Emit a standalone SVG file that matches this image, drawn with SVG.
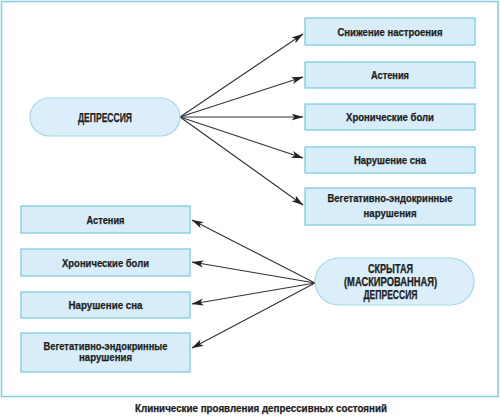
<svg xmlns="http://www.w3.org/2000/svg" width="500" height="418" viewBox="0 0 500 418">
<defs>
<marker id="ah" viewBox="0 0 12 8" refX="11.5" refY="4" markerWidth="12" markerHeight="8" markerUnits="userSpaceOnUse" orient="auto">
<path d="M0,0.5 L12,4 L0,7.5 L3,4 Z" fill="#222"/>
</marker>
<style>
.box{fill:#d8edf8;stroke:#7fcde0;stroke-width:1.3}
.pill{fill:#dbeef9;stroke:#a8d6e6;stroke-width:1.2}
.t{font-family:"Liberation Sans","DejaVu Sans",sans-serif;font-weight:bold;font-size:11.5px;fill:#1c1c1c;stroke:#1c1c1c;stroke-width:0.25;text-anchor:middle}
.h{font-size:12.5px}
.s{font-size:12px}
.cap{font-size:10.5px}
.c{stroke:#333;stroke-width:1.1;fill:none;marker-end:url(#ah)}
</style>
</defs>
<rect width="500" height="418" fill="#fff"/>
<rect x="1.5" y="1.5" width="496.5" height="395" fill="none" stroke="#88d0e0" stroke-width="1.6"/>

<g id="connectors">
<line class="c" x1="180" y1="117" x2="303" y2="34"/>
<line class="c" x1="180" y1="117" x2="303" y2="77"/>
<line class="c" x1="180" y1="117" x2="303" y2="117"/>
<line class="c" x1="180" y1="117" x2="303" y2="158"/>
<line class="c" x1="180" y1="117" x2="303" y2="205"/>
<line class="c" x1="315" y1="283" x2="192" y2="220"/>
<line class="c" x1="315" y1="283" x2="192" y2="262"/>
<line class="c" x1="315" y1="283" x2="192" y2="304"/>
<line class="c" x1="315" y1="283" x2="192" y2="348"/>
</g>

<g id="depression">
<rect class="pill" x="30" y="98" width="150" height="38" rx="19"/>
<text class="t h" x="105" y="121.5" textLength="54" lengthAdjust="spacingAndGlyphs">ДЕПРЕССИЯ</text>
</g>

<g id="r1">
<rect class="box" x="305" y="18" width="170" height="27"/>
<text class="t" x="390" y="35.5" textLength="105" lengthAdjust="spacingAndGlyphs">Снижение настроения</text>
</g>
<g id="r2">
<rect class="box" x="305" y="62" width="170" height="26"/>
<text class="t" x="390" y="79" textLength="38" lengthAdjust="spacingAndGlyphs">Астения</text>
</g>
<g id="r3">
<rect class="box" x="305" y="104" width="170" height="26"/>
<text class="t" x="390" y="121" textLength="88" lengthAdjust="spacingAndGlyphs">Хронические боли</text>
</g>
<g id="r4">
<rect class="box" x="305" y="147" width="170" height="26"/>
<text class="t" x="390" y="164" textLength="72" lengthAdjust="spacingAndGlyphs">Нарушение сна</text>
</g>
<g id="r5">
<rect class="box" x="305" y="188" width="170" height="37"/>
<text class="t" x="390" y="202" textLength="125" lengthAdjust="spacingAndGlyphs">Вегетативно-эндокринные</text>
<text class="t" x="390" y="217" textLength="53" lengthAdjust="spacingAndGlyphs">нарушения</text>
</g>

<g id="l1">
<rect class="box" x="21" y="206" width="169" height="27"/>
<text class="t" x="105.5" y="223.5" textLength="38" lengthAdjust="spacingAndGlyphs">Астения</text>
</g>
<g id="l2">
<rect class="box" x="21" y="249" width="169" height="27"/>
<text class="t" x="105.5" y="266.5" textLength="87" lengthAdjust="spacingAndGlyphs">Хронические боли</text>
</g>
<g id="l3">
<rect class="box" x="21" y="292" width="169" height="26"/>
<text class="t" x="105.5" y="309" textLength="74" lengthAdjust="spacingAndGlyphs">Нарушение сна</text>
</g>
<g id="l4">
<rect class="box" x="21" y="333" width="169" height="39"/>
<text class="t" x="105.5" y="349.5" textLength="124" lengthAdjust="spacingAndGlyphs">Вегетативно-эндокринные</text>
<text class="t" x="105.5" y="361" textLength="53" lengthAdjust="spacingAndGlyphs">нарушения</text>
</g>

<g id="hidden">
<rect class="pill" x="315" y="258" width="159" height="47" rx="23.5"/>
<text class="t s" x="390.5" y="272.5" textLength="45" lengthAdjust="spacingAndGlyphs">СКРЫТАЯ</text>
<text class="t s" x="390.5" y="286" textLength="93" lengthAdjust="spacingAndGlyphs">(МАСКИРОВАННАЯ)</text>
<text class="t s" x="390.5" y="298.5" textLength="54" lengthAdjust="spacingAndGlyphs">ДЕПРЕССИЯ</text>
</g>

<text class="t cap" x="261" y="412" textLength="252" lengthAdjust="spacingAndGlyphs">Клинические проявления депрессивных состояний</text>
</svg>
